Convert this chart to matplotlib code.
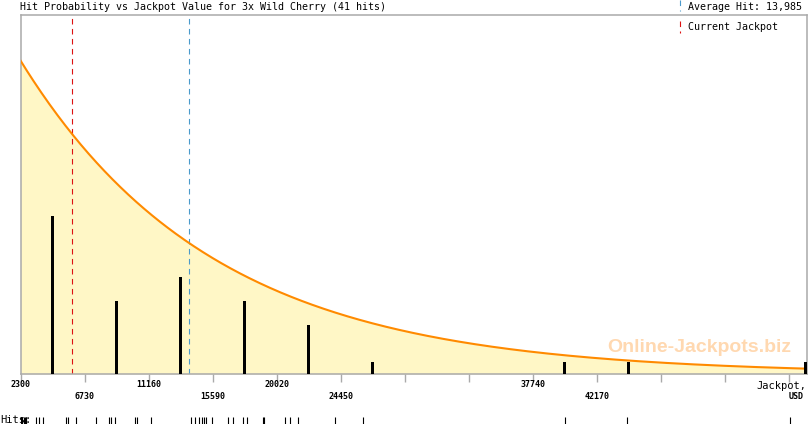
import numpy as np
import matplotlib
matplotlib.use('Agg')
import matplotlib.pyplot as plt
from matplotlib.lines import Line2D

hits = [2300, 2369, 2438, 2508, 2577, 2646, 2715, 3359, 3587, 3823, 5436, 5595, 6128,
        7512, 8412, 8530, 8827, 10212, 10330,
        11319, 14123, 14365, 14642, 14870, 15023, 15126, 15521,
        16670, 17016, 17708, 17985, 19051, 19141,
        20595, 20941, 21516, 24076,
        26015, 39977, 44268, 55520]
average_hit = 13985
current_jackpot = 5850
x_start = 2300
bin_width = 4430
n_bins = 13
x_end = 56700
# fitted curve, in hit-count units
curve_peak = 25.8
curve_scale = 13360
y_top = 29.55

tick_values = [x_start + i * bin_width for i in range(n_bins)]
tick_labels = ['2300', '6730', '11160', '15590', '20020', '24450', '', '',
               '37740', '42170', '', '', '']

title = 'Hit Probability vs Jackpot Value for 3x Wild Cherry (41 hits)'

W, H = 810, 425
fig = plt.figure(figsize=(W / 100, H / 100), dpi=100)
mono = 'DejaVu Sans Mono'
dash = (0, (5, 4))

def fx(px):
    return px / W

def fy(py):
    return 1 - py / H

# main axes: pixels x 20.5..807, y 15..374
ax = fig.add_axes([fx(20.5), fy(374), fx(807 - 20.5), (374 - 15) / H])
ax.set_xlim(x_start, x_end)
ax.set_ylim(0, y_top)

xs = np.linspace(x_start, x_end, 600)
ys = curve_peak * np.exp(-(xs - x_start) / curve_scale)
ax.fill_between(xs, 0, ys, color='#fff7c6', lw=0, zorder=1)
ax.plot(xs, ys, color='#ff8a00', lw=1.5, zorder=3)

edges = x_start + bin_width * np.arange(n_bins + 1)
counts, _ = np.histogram(hits, bins=edges)
bar_w = 210
centers = edges[:-1] + bin_width / 2
centers = np.minimum(centers, x_end - bar_w / 2)
ax.bar(centers[counts > 0], counts[counts > 0], width=bar_w, color='black', zorder=4)

ax.axvline(current_jackpot, color='#dd1111', lw=0.8, ls=dash, zorder=2)
ax.axvline(average_hit, color='#4a9acc', lw=0.8, ls=dash, zorder=2)

for s in ax.spines.values():
    s.set_color('#aaaaaa')
    s.set_linewidth(1.1)
ax.set_yticks([])
ax.set_xticks(tick_values)
ax.set_xticklabels([])
ax.tick_params(axis='x', length=6, width=1, color='#aaaaaa', direction='out')

# tick labels on two alternating rows
for i, (v, lab) in enumerate(zip(tick_values, tick_labels)):
    if not lab:
        continue
    row_y = -0.028 if i % 2 == 0 else -0.063
    ax.text(v, row_y, lab, transform=ax.get_xaxis_transform(), ha='center', va='center',
            fontsize=6, family=mono, color='black', fontweight='bold')
ax.text(x_end - 50, -0.033, 'Jackpot,', transform=ax.get_xaxis_transform(), ha='right',
        va='center', fontsize=7.5, family=mono)
ax.text(x_end - 250, -0.063, 'USD', transform=ax.get_xaxis_transform(), ha='right',
        va='center', fontsize=6, family=mono, fontweight='bold')

ax.text(0.863, 0.075, 'Online-Jackpots.biz', transform=ax.transAxes, ha='center', va='center',
        fontsize=14, fontweight='bold', family='Liberation Sans', color='#ffd8b0', zorder=2)

# title and legend
fig.text(fx(20), fy(7), title, ha='left', va='center', fontsize=7.2, family=mono)
fig.add_artist(Line2D([fx(680), fx(680)], [fy(0), fy(11)], color='#4a9acc', lw=0.8, ls=dash))
fig.text(fx(688), fy(7), 'Average Hit: 13,985', ha='left', va='center', fontsize=7.2, family=mono)
fig.add_artist(Line2D([fx(680), fx(680)], [fy(21), fy(33)], color='#dd1111', lw=0.8, ls=dash))
fig.text(fx(688), fy(27), 'Current Jackpot', ha='left', va='center', fontsize=7.2, family=mono)

# hits strip
hx = fig.add_axes([fx(20.5), fy(424), fx(807 - 20.5), 7 / H])
hx.set_xlim(x_start, x_end)
hx.set_ylim(0, 1)
hx.vlines(hits, 0, 1, color='black', lw=0.8)
hx.axis('off')
fig.text(0, fy(420), 'Hits:', ha='left', va='center', fontsize=7.5, family=mono)

fig.savefig('out.png', dpi=100)
